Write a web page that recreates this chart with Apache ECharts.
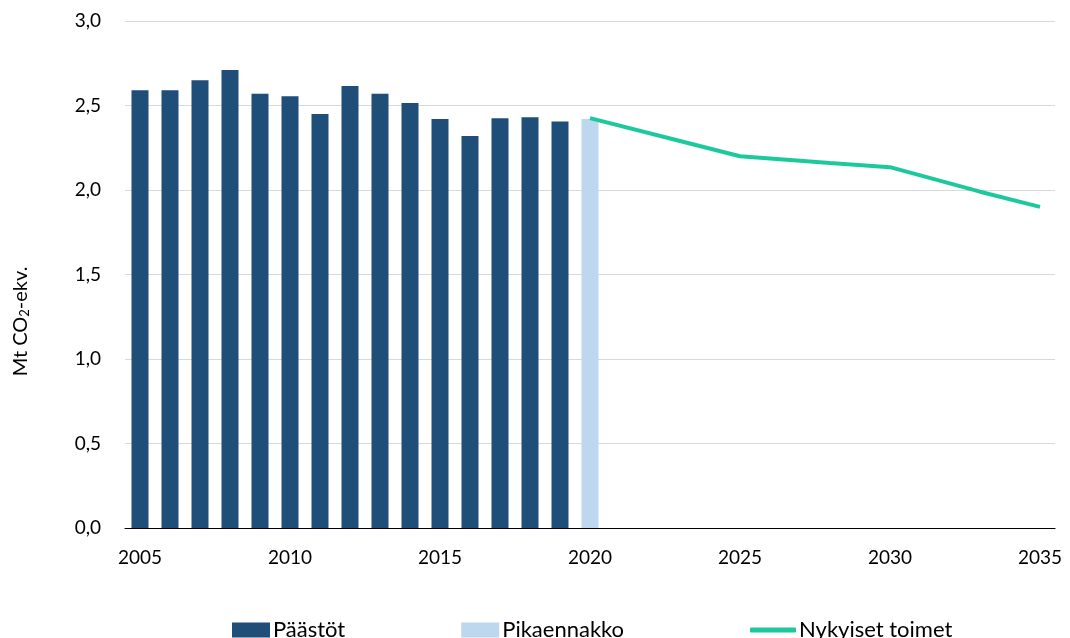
<!DOCTYPE html>
<html>
<head>
<meta charset="utf-8">
<script src="https://cdn.jsdelivr.net/npm/echarts@6/dist/echarts.min.js"></script>
<style>html,body{margin:0;padding:0;background:#fff}#c{width:1070px;height:638px}</style>
</head>
<body>
<div id="c"></div>
<script>
// years on the x axis
const years = [];
for (let y = 2005; y <= 2035; y++) years.push(String(y));

// Päästöt 2005-2019
const paastot = [2.59, 2.59, 2.65, 2.71, 2.57, 2.555, 2.45, 2.615, 2.57, 2.515, 2.42, 2.32, 2.425, 2.43, 2.405];
// Pikaennakko 2020
const pikaennakko = { year: "2020", value: 2.42 };
// Nykyiset toimet, points
const toimetYears = ["2020", "2023", "2025", "2028", "2030", "2033", "2035"];
const toimetVals  = [2.425, 2.29, 2.20, 2.16, 2.135, 1.99, 1.90];

const font = "Lato, 'Open Sans', sans-serif";
const barData = years.map((y, i) => i < paastot.length ? paastot[i] : null);
const pikaData = years.map(y => y === pikaennakko.year ? pikaennakko.value : null);
const lineData = years.map(y => { const k = toimetYears.indexOf(y); return k >= 0 ? toimetVals[k] : null; });
const legendText = { fontFamily: font, fontSize: 22, color: "#000", padding: [0, 0, 0, -2] };

const chart = echarts.init(document.getElementById("c"));
chart.setOption({
  animation: false,
  grid: { left: 125, right: 15, top: 21, bottom: 110 },
  legend: [
    { left: 227, top: 614, itemGap: 116, itemWidth: 38, itemHeight: 15,
      textStyle: legendText,
      data: [{ name: "Päästöt", icon: "rect" }, { name: "Pikaennakko", icon: "rect" }] },
    { left: 745, top: 614, itemWidth: 46, itemHeight: 5,
      textStyle: legendText,
      data: [{ name: "Nykyiset toimet", icon: "roundRect" }] }
  ],
  xAxis: {
    type: "category", data: years, boundaryGap: true,
    axisLine: { lineStyle: { color: "#000", width: 1.2 } },
    axisTick: { show: false },
    axisLabel: {
      fontFamily: font, fontSize: 19, color: "#000", margin: 20,
      interval: (i, v) => (Number(v) - 2005) % 5 === 0
    }
  },
  yAxis: {
    type: "value", min: 0, max: 3, interval: 0.5,
    name: "Mt CO{sub|2}-ekv.",
    nameLocation: "middle", nameRotate: 90, nameGap: 94,
    nameTextStyle: {
      fontFamily: font, fontSize: 20, color: "#000", padding: [0, 94, 0, 0],
      rich: { sub: { fontFamily: font, fontSize: 13, verticalAlign: "bottom", padding: [8, 0, 0, 0] } }
    },
    axisLine: { show: false }, axisTick: { show: false },
    splitLine: { lineStyle: { color: "#d9d9d9", width: 1 } },
    axisLabel: {
      fontFamily: font, fontSize: 19, color: "#000", margin: 24,
      formatter: v => v.toFixed(1).replace(".", ",")
    }
  },
  series: [
    { name: "Päästöt", type: "bar", stack: "s", barWidth: 17, data: barData,
      itemStyle: { color: "#1F4E79" } },
    { name: "Pikaennakko", type: "bar", stack: "s", barWidth: 17, data: pikaData,
      itemStyle: { color: "#BDD7EE" } },
    { name: "Nykyiset toimet", type: "line", data: lineData, connectNulls: true,
      symbol: "none", lineStyle: { color: "#1DC99C", width: 4 }, itemStyle: { color: "#1DC99C" } }
  ]
});
</script>
</body>
</html>
